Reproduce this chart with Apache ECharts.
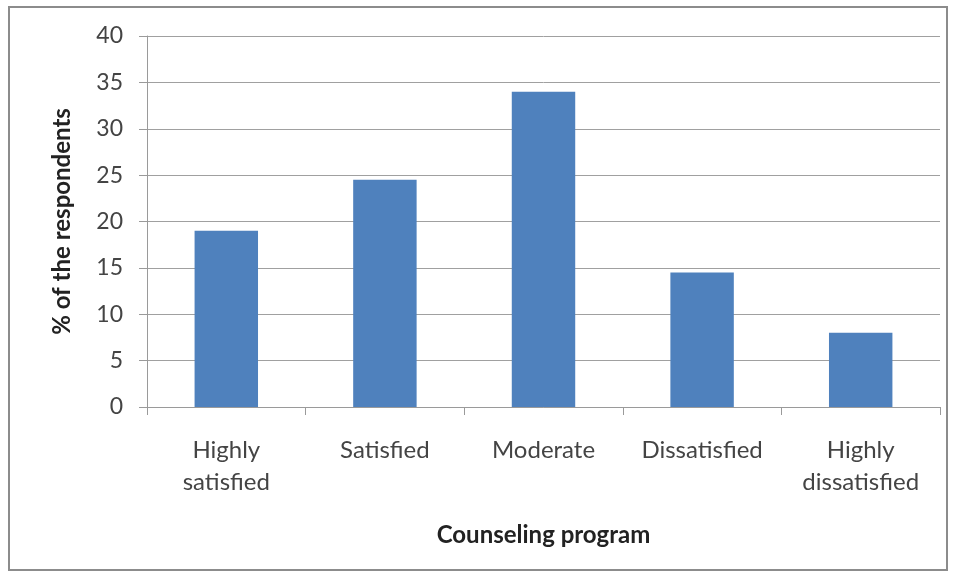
<!DOCTYPE html>
<html>
<head>
<meta charset="utf-8">
<script src="https://cdn.jsdelivr.net/npm/echarts@6/dist/echarts.min.js"></script>
<style>
  html, body { margin: 0; padding: 0; background: #ffffff; }
  #frame { position: absolute; left: 8px; top: 6px; width: 940px; height: 565px; border: 2px solid #8c8c8c; box-sizing: border-box; }
  #chart { position: absolute; left: 0; top: 0; width: 958px; height: 580px; }
</style>
</head>
<body>
<div id="frame"></div>
<div id="chart"></div>
<script>
// Satisfaction with the counseling program
const categories = ['Highly\nsatisfied', 'Satisfied', 'Moderate', 'Dissatisfied', 'Highly\ndissatisfied'];
const percentages = [19, 24.5, 34, 14.5, 8];
const yTicks = { min: 0, max: 40, interval: 5 };

const font = 'Lato, "Open Sans", sans-serif';
const chart = echarts.init(document.getElementById('chart'), null, { renderer: 'canvas' });

chart.setOption({
  backgroundColor: 'transparent',
  animation: false,
  grid: { left: 147, right: 18, top: 36, bottom: 173, containLabel: false },
  xAxis: {
    type: 'category',
    data: categories,
    name: 'Counseling program',
    nameLocation: 'middle',
    nameGap: 116,
    nameTextStyle: { fontFamily: font, fontSize: 24, fontWeight: 'bold', color: '#222' },
    axisLine: { lineStyle: { color: '#9a9a9a', width: 1 } },
    axisTick: { show: true, length: 8, lineStyle: { color: '#9a9a9a' } },
    axisLabel: { fontFamily: font, fontSize: 24, color: '#444', margin: 27, lineHeight: 32 }
  },
  yAxis: {
    type: 'value',
    min: yTicks.min,
    max: yTicks.max,
    interval: yTicks.interval,
    name: '% of the respondents',
    nameLocation: 'middle',
    nameGap: 73,
    nameTextStyle: { fontFamily: font, fontSize: 24, fontWeight: 'bold', color: '#222' },
    axisLine: { show: true, lineStyle: { color: '#9a9a9a', width: 1 } },
    axisTick: { show: true, length: 8, lineStyle: { color: '#9a9a9a' } },
    axisLabel: { fontFamily: font, fontSize: 23, color: '#444', margin: 24 },
    splitLine: { show: true, lineStyle: { color: '#a0a0a0', width: 1 } }
  },
  series: [{
    type: 'bar',
    data: percentages,
    barCategoryGap: '60%',
    itemStyle: { color: '#4f81bd' }
  }]
});
</script>
</body>
</html>
